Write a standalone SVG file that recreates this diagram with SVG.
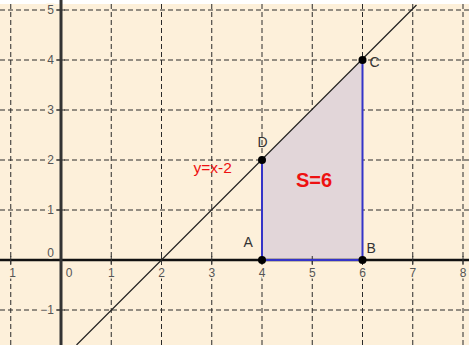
<svg xmlns="http://www.w3.org/2000/svg" width="469" height="345" viewBox="0 0 469 345">
<style>
.grid{stroke:#2a2a2a;stroke-width:1;stroke-dasharray:5 3;fill:none}
.tick{stroke:#333;stroke-width:1}
.lbl{font-family:"Liberation Sans",Arial,sans-serif;font-size:12px;fill:#555;paint-order:stroke;stroke:#fdf0da;stroke-width:3}
.pt{font-family:"Liberation Sans",Arial,sans-serif;font-size:14px;fill:#333}
.edge{stroke:#3434c8;stroke-width:2;fill:none}
</style>
<rect x="0" y="0" width="469" height="345" fill="#ffffff"/>
<rect x="0" y="4" width="469" height="341" fill="#fdf0da"/>
<g id="grid">
<line class="grid" x1="10.75" y1="4" x2="10.75" y2="345"/>
<line class="grid" x1="111.25" y1="4" x2="111.25" y2="345"/>
<line class="grid" x1="161.5" y1="4" x2="161.5" y2="345"/>
<line class="grid" x1="211.75" y1="4" x2="211.75" y2="345"/>
<line class="grid" x1="262" y1="4" x2="262" y2="345"/>
<line class="grid" x1="312.25" y1="4" x2="312.25" y2="345"/>
<line class="grid" x1="362.5" y1="4" x2="362.5" y2="345"/>
<line class="grid" x1="412.75" y1="4" x2="412.75" y2="345"/>
<line class="grid" x1="463" y1="4" x2="463" y2="345"/>
<line class="grid" x1="0" y1="10" x2="469" y2="10"/>
<line class="grid" x1="0" y1="60" x2="469" y2="60"/>
<line class="grid" x1="0" y1="110" x2="469" y2="110"/>
<line class="grid" x1="0" y1="160" x2="469" y2="160"/>
<line class="grid" x1="0" y1="210" x2="469" y2="210"/>
<line class="grid" x1="0" y1="310" x2="469" y2="310"/>
</g>
<g id="area">
<polygon points="262,260 362.5,260 362.5,60 262,160" fill="#e2d6d9" stroke="none"/>
</g>
<g id="axes">
<line x1="0" y1="260" x2="469" y2="260" stroke="#111" stroke-width="2.5"/>
<line x1="61" y1="0" x2="61" y2="345" stroke="#333" stroke-width="3"/>
<g class="tick">
<line x1="57" y1="10" x2="65" y2="10"/><line x1="57" y1="60" x2="65" y2="60"/><line x1="57" y1="110" x2="65" y2="110"/><line x1="57" y1="160" x2="65" y2="160"/><line x1="57" y1="210" x2="65" y2="210"/><line x1="57" y1="310" x2="65" y2="310"/>
<line x1="10.75" y1="256" x2="10.75" y2="264"/><line x1="111.25" y1="256" x2="111.25" y2="264"/><line x1="161.5" y1="256" x2="161.5" y2="264"/><line x1="211.75" y1="256" x2="211.75" y2="264"/><line x1="262" y1="256" x2="262" y2="264"/><line x1="312.25" y1="256" x2="312.25" y2="264"/><line x1="362.5" y1="256" x2="362.5" y2="264"/><line x1="412.75" y1="256" x2="412.75" y2="264"/><line x1="463" y1="256" x2="463" y2="264"/>
</g>
<g class="lbl" text-anchor="end">
<text x="54" y="14">5</text>
<text x="54" y="64">4</text>
<text x="54" y="114">3</text>
<text x="54" y="164">2</text>
<text x="54" y="214">1</text>
<text x="54" y="257">0</text>
<text x="54" y="314">−1</text>
</g>
<g class="lbl" text-anchor="middle">
<text x="12.5" y="277">1</text>
<text x="69" y="277">0</text>
<text x="111.25" y="277">1</text>
<text x="161.5" y="277">2</text>
<text x="211.75" y="277">3</text>
<text x="262" y="277">4</text>
<text x="312.25" y="277">5</text>
<text x="362.5" y="277">6</text>
<text x="412.75" y="277">7</text>
<text x="463" y="277">8</text>
</g>
</g>
<g id="connectors">
<line x1="76.5" y1="345" x2="416.5" y2="5" stroke="#222" stroke-width="1.2"/>
<polyline class="edge" points="262,160 262,260 362.5,260 362.5,60"/>
</g>
<g id="A"><circle cx="262" cy="260" r="4" fill="#000"/><text class="pt" x="243.5" y="247" font-size="13">A</text></g>
<g id="B"><circle cx="362.5" cy="260" r="4" fill="#000"/><text class="pt" x="366.5" y="253" font-size="15">B</text></g>
<g id="C"><circle cx="362.5" cy="60" r="4" fill="#000"/><text class="pt" x="369.5" y="67" font-size="15">C</text></g>
<g id="D"><circle cx="262" cy="160" r="4" fill="#000"/><text class="pt" x="257.5" y="147">D</text></g>
<g id="labels">
<text x="193.5" y="173" font-family="Liberation Sans,Arial,sans-serif" font-size="15.5" fill="#ee1111">y=x-2</text>
<text x="296" y="187" font-family="Liberation Sans,Arial,sans-serif" font-size="20" font-weight="bold" fill="#ee1111">S=6</text>
</g>
</svg>
